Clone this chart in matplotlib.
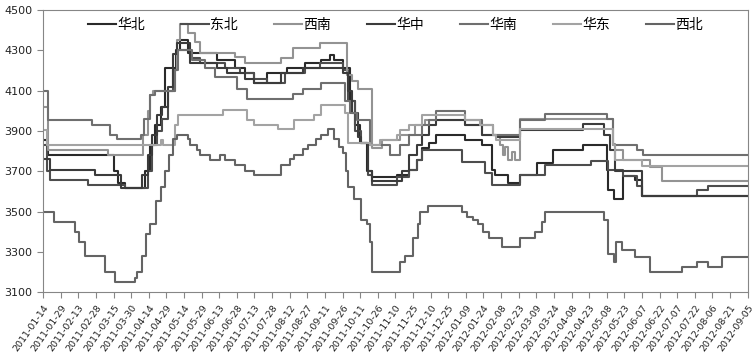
import matplotlib.pyplot as plt
import pandas as pd

plt.rcParams['font.family'] = ['Noto Sans CJK SC', 'DejaVu Sans']

# 华北
huabei_dates = ['2011-01-14', '2011-01-17', '2011-01-18', '2011-03-15', '2011-03-19', '2011-03-25',
                '2011-04-11', '2011-04-15', '2011-04-19', '2011-04-24', '2011-04-28', '2011-05-07',
                '2011-05-11', '2011-05-17', '2011-06-11', '2011-06-26', '2011-07-05', '2011-07-13',
                '2011-07-24', '2011-08-10', '2011-08-25', '2011-09-08', '2011-09-15', '2011-09-19',
                '2011-09-26', '2011-10-02', '2011-10-07', '2011-10-11', '2011-10-17', '2011-10-21',
                '2011-11-11', '2011-11-22', '2011-11-28', '2011-12-03', '2011-12-09', '2011-12-15',
                '2012-01-08', '2012-01-23', '2012-01-31', '2012-02-03', '2012-02-14', '2012-02-24',
                '2012-03-10', '2012-03-23', '2012-04-18', '2012-05-08', '2012-05-09', '2012-05-14',
                '2012-05-22', '2012-06-01', '2012-06-07', '2012-09-05']
huabei_vals = [3855, 3830, 3780, 3700, 3640, 3615, 3700, 3830, 3930, 4020, 4210, 4300,
               4350, 4285, 4250, 4210, 4185, 4140, 4185, 4210, 4235, 4250, 4275, 4250,
               4210, 4050, 3930, 3840, 3700, 3670, 3680, 3705, 3755, 3815, 3840, 3880,
               3855, 3830, 3705, 3680, 3640, 3680, 3740, 3805, 3830, 3705, 3605, 3560,
               3675, 3655, 3575, 3575]

# 东北
dongbei_dates = ['2011-01-14', '2011-01-17', '2011-01-20', '2011-02-21', '2011-03-25', '2011-04-13',
                 '2011-04-17', '2011-04-21', '2011-04-25', '2011-04-30', '2011-05-05', '2011-05-08',
                 '2011-05-19', '2011-05-28', '2011-06-18', '2011-07-01', '2011-07-13', '2011-07-24',
                 '2011-08-08', '2011-08-25', '2011-09-07', '2011-09-26', '2011-10-01', '2011-10-07',
                 '2011-10-12', '2011-10-18', '2011-10-21', '2011-11-11', '2011-11-22', '2011-11-28',
                 '2011-12-03', '2012-01-06', '2012-01-25', '2012-01-31', '2012-02-24', '2012-03-16',
                 '2012-04-25', '2012-05-09', '2012-05-22', '2012-06-03', '2012-06-07', '2012-07-24',
                 '2012-08-02', '2012-09-05']
dongbei_vals = [3830, 3700, 3655, 3630, 3615, 3700, 3830, 3900, 3960, 4100, 4200, 4300,
                4260, 4235, 4210, 4185, 4160, 4140, 4185, 4210, 4235, 4200, 4050, 3900,
                3840, 3680, 3630, 3670, 3705, 3755, 3805, 3745, 3690, 3630, 3680, 3730,
                3750, 3705, 3675, 3625, 3575, 3605, 3625, 3625]

# 西南
xinan_dates = ['2011-01-14', '2011-01-18', '2011-03-10', '2011-04-09', '2011-04-13', '2011-04-15',
               '2011-04-18', '2011-05-06', '2011-05-08', '2011-05-11', '2011-05-17', '2011-05-23',
               '2011-05-28', '2011-06-26', '2011-07-05', '2011-08-05', '2011-08-15', '2011-09-07',
               '2011-09-30', '2011-10-04', '2011-10-09', '2011-10-21', '2011-10-30', '2011-11-14',
               '2011-11-27', '2011-12-05', '2012-01-08', '2012-01-23', '2012-02-07', '2012-02-10',
               '2012-02-11', '2012-02-14', '2012-02-17', '2012-02-20', '2012-02-24', '2012-05-13',
               '2012-05-15', '2012-05-22', '2012-06-14', '2012-06-24', '2012-09-05']
xinan_vals = [4020, 3805, 3780, 3880, 4000, 4080, 4100, 4200, 4350, 4430, 4385, 4340,
              4285, 4265, 4235, 4260, 4310, 4335, 4180, 4150, 4110, 3815, 3855, 3880,
              3930, 3955, 3930, 3880, 3830, 3780, 3820, 3755, 3795, 3755, 3960, 3835,
              3805, 3755, 3720, 3650, 3650]

# 华中
huazhong_dates = ['2011-01-14', '2011-01-20', '2011-02-27', '2011-03-21', '2011-04-08', '2011-04-13',
                  '2011-04-17', '2011-04-21', '2011-04-25', '2011-04-30', '2011-05-05', '2011-05-08',
                  '2011-05-19', '2011-06-11', '2011-06-20', '2011-07-05', '2011-07-13', '2011-08-05',
                  '2011-08-23', '2011-09-26', '2011-10-01', '2011-10-04', '2011-10-09', '2011-10-12',
                  '2011-10-18', '2011-10-21', '2011-11-16', '2011-11-22', '2011-11-28', '2011-12-03',
                  '2011-12-09', '2011-12-15', '2012-01-08', '2012-01-23', '2012-02-04', '2012-02-24',
                  '2012-04-18', '2012-05-06', '2012-05-11', '2012-05-15', '2012-06-07', '2012-09-05']
huazhong_vals = [3760, 3705, 3680, 3615, 3680, 3780, 3880, 3980, 4020, 4120, 4280, 4335,
                 4235, 4210, 4185, 4160, 4140, 4185, 4210, 4185, 4100, 3990, 3870, 3840,
                 3700, 3650, 3700, 3780, 3830, 3880, 3930, 3955, 3930, 3880, 3870, 3905,
                 3935, 3880, 3805, 3700, 3575, 3575]

# 华南
huanan_dates = ['2011-01-14', '2011-01-18', '2011-02-25', '2011-03-12', '2011-03-18', '2011-04-07',
                '2011-04-10', '2011-04-15', '2011-04-19', '2011-05-06', '2011-05-09', '2011-05-21',
                '2011-06-01', '2011-06-09', '2011-06-28', '2011-07-07', '2011-08-15', '2011-08-23',
                '2011-09-08', '2011-09-28', '2011-10-02', '2011-10-08', '2011-10-19', '2011-11-05',
                '2011-11-14', '2011-11-22', '2011-12-03', '2011-12-09', '2011-12-15', '2012-01-08',
                '2012-01-23', '2012-02-01', '2012-02-24', '2012-03-16', '2012-05-08', '2012-05-13',
                '2012-06-03', '2012-06-08', '2012-09-05']
huanan_vals = [4100, 3955, 3930, 3880, 3860, 3880, 3960, 4080, 4100, 4200, 4300, 4250,
               4210, 4170, 4110, 4060, 4085, 4110, 4140, 4050, 3990, 3955, 3830, 3780,
               3830, 3880, 3930, 3955, 4000, 3955, 3930, 3880, 3955, 3985, 3960, 3830,
               3805, 3780, 3780]

# 华东
huadong_dates = ['2011-01-14', '2011-01-17', '2011-04-24', '2011-04-26', '2011-05-06', '2011-05-09',
                 '2011-06-16', '2011-07-07', '2011-07-13', '2011-08-02', '2011-08-16', '2011-09-02',
                 '2011-09-08', '2011-09-28', '2011-10-01', '2011-10-19', '2011-10-28', '2011-11-11',
                 '2011-11-14', '2011-11-22', '2011-12-03', '2012-01-08', '2012-01-21', '2012-02-01',
                 '2012-02-04', '2012-02-24', '2012-05-13', '2012-05-15', '2012-06-07', '2012-09-05']
huadong_vals = [3905, 3830, 3855, 3830, 3930, 3980, 4005, 3955, 3930, 3910, 3955, 3980,
                4030, 3990, 3840, 3830, 3855, 3880, 3905, 3930, 3980, 3955, 3930, 3880,
                3855, 3910, 3830, 3755, 3725, 3725]

# 西北
xibei_dates = ['2011-01-14', '2011-01-23', '2011-02-10', '2011-02-14', '2011-02-19', '2011-03-08',
               '2011-03-16', '2011-04-02', '2011-04-04', '2011-04-08', '2011-04-12', '2011-04-15',
               '2011-04-20', '2011-04-24', '2011-04-28', '2011-05-01', '2011-05-05', '2011-05-08',
               '2011-05-17', '2011-05-19', '2011-05-25', '2011-05-28', '2011-06-05', '2011-06-14',
               '2011-06-18', '2011-06-26', '2011-07-05', '2011-07-13', '2011-08-05', '2011-08-12',
               '2011-08-16', '2011-08-23', '2011-08-28', '2011-09-03', '2011-09-08', '2011-09-14',
               '2011-09-19', '2011-09-23', '2011-09-26', '2011-09-29', '2011-10-01', '2011-10-06',
               '2011-10-12', '2011-10-17', '2011-10-19', '2011-10-21', '2011-11-14', '2011-11-18',
               '2011-11-25', '2011-11-29', '2011-12-01', '2011-12-08', '2012-01-06', '2012-01-10',
               '2012-01-15', '2012-01-19', '2012-01-24', '2012-01-29', '2012-02-09', '2012-02-24',
               '2012-03-08', '2012-03-14', '2012-03-16', '2012-05-06', '2012-05-09', '2012-05-14',
               '2012-05-16', '2012-05-21', '2012-06-01', '2012-06-14', '2012-07-11', '2012-07-24',
               '2012-08-02', '2012-08-14', '2012-09-05']
xibei_vals = [3500, 3450, 3400, 3350, 3280, 3200, 3150, 3170, 3200, 3280, 3390, 3440,
              3550, 3620, 3700, 3780, 3860, 3880, 3860, 3830, 3805, 3780, 3755, 3780,
              3755, 3730, 3700, 3680, 3730, 3760, 3780, 3810, 3830, 3860, 3880, 3910,
              3860, 3820, 3790, 3700, 3620, 3560, 3460, 3440, 3350, 3200, 3250, 3280,
              3370, 3440, 3500, 3525, 3500, 3475, 3460, 3440, 3400, 3370, 3325, 3370,
              3400, 3450, 3500, 3460, 3290, 3250, 3350, 3310, 3275, 3200, 3225, 3250,
              3225, 3275, 3275]

series = [
    ('华北', huabei_dates, huabei_vals, '#2a2a2a'),
    ('东北', dongbei_dates, dongbei_vals, '#4d4d4d'),
    ('西南', xinan_dates, xinan_vals, '#939393'),
    ('华中', huazhong_dates, huazhong_vals, '#3b3b3b'),
    ('华南', huanan_dates, huanan_vals, '#6f6f6f'),
    ('华东', huadong_dates, huadong_vals, '#a3a3a3'),
    ('西北', xibei_dates, xibei_vals, '#646464'),
]

fig, ax = plt.subplots(figsize=(7.56, 3.58), dpi=100)
fig.subplots_adjust(left=0.057, right=0.989, top=0.972, bottom=0.184)

for name, d, v, c in series:
    ax.plot(pd.to_datetime(d), v, drawstyle='steps-post', color=c, lw=1.5, label=name)

ticks = pd.date_range('2011-01-14', '2012-09-05', freq='15D')
ax.set_xlim(ticks[0], ticks[-1])
ax.set_xticks(ticks)
ax.set_xticklabels([t.strftime('%Y-%m-%d') for t in ticks], rotation=55,
                   ha='right', va='top', rotation_mode='anchor', fontsize=6.8,
                   family='DejaVu Sans', color='#222222')
ax.set_ylim(3100, 4500)
ax.set_yticks(range(3100, 4501, 200))
ax.tick_params(axis='y', labelsize=8, length=4, color='#868686', labelcolor='#222222')
ax.tick_params(axis='x', length=4, color='#868686', pad=4)
for lab in ax.get_yticklabels():
    lab.set_family('DejaVu Sans')
for sp in ax.spines.values():
    sp.set_color('#868686')

ax.legend(loc='upper center', bbox_to_anchor=(0.5, 1.0), ncol=7, frameon=False,
          fontsize=10, handlelength=2.0, handletextpad=0.1, columnspacing=2.6,
          borderaxespad=0.2)

fig.savefig('out.png', dpi=100)
